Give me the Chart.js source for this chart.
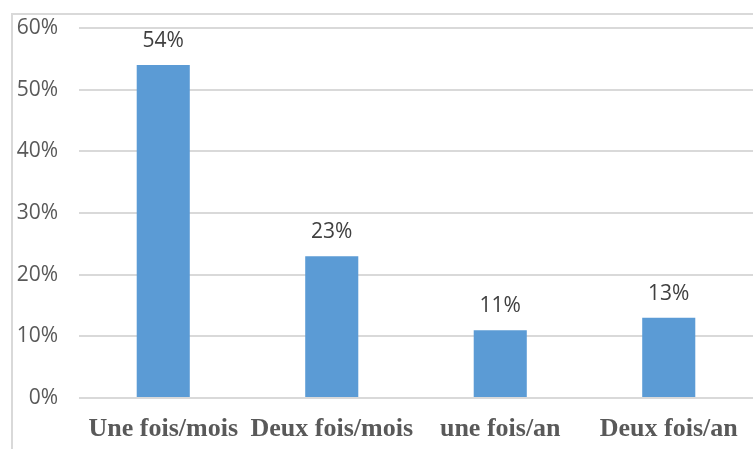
<!DOCTYPE html>
<html>
<head>
<meta charset="utf-8">
<script src="https://cdn.jsdelivr.net/npm/chart.js@4"></script>
<style>
  html, body { margin: 0; padding: 0; background: #fff; overflow: hidden; }
  #wrap { position: relative; width: 753px; height: 449px; }
  #cadre { position: absolute; left: 11px; top: 13px; width: 800px; height: 500px;
           border-left: 2px solid #d9d9d9; border-top: 2px solid #d9d9d9; }
  canvas { position: absolute; left: 0; top: 0; }
</style>
</head>
<body>
<div id="wrap">
  <div id="cadre"></div>
  <canvas id="graf" width="753" height="449"></canvas>
</div>
<script>
let categories = ['Une fois/mois', 'Deux fois/mois', 'une fois/an', 'Deux fois/an']
let valeurs = [54, 23, 11, 13]
let ticksY = [0, 10, 20, 30, 40, 50, 60]

// étiquettes au-dessus des barres
const etiquettes = {
    id: 'etiquettes',
    afterDatasetsDraw(chart) {
        let ctx = chart.ctx
        let meta = chart.getDatasetMeta(0)
        ctx.save()
        ctx.font = '21px "Open Sans"'
        ctx.fillStyle = '#404040'
        ctx.textAlign = 'center'
        ctx.textBaseline = 'middle'
        meta.data.forEach((bar, i) => {
            ctx.fillText(valeurs[i] + '%', bar.x, bar.y - 24)
        })
        ctx.restore()
    }
}

let ctx = document.getElementById('graf').getContext('2d')

new Chart(ctx, {
    type: 'bar',
    data: {
        labels: categories,
        datasets: [{
            data: valeurs,
            backgroundColor: '#5b9bd5',
            categoryPercentage: 1,
            barPercentage: 0.315
        }]
    },
    options: {
        responsive: false,
        animation: false,
        layout: { padding: { left: 15, top: 28, right: 0, bottom: 0 } },
        plugins: {
            legend: { display: false },
            tooltip: { enabled: false }
        },
        scales: {
            x: {
                grid: { display: false },
                border: { display: false },
                ticks: {
                    autoSkip: false,
                    maxRotation: 0,
                    padding: 8,
                    color: '#595959',
                    font: { family: '"Liberation Serif"', size: 26, weight: 'bold' }
                },
                afterFit: s => { s.height = 51; s.paddingLeft = 0; s.paddingRight = 0 }
            },
            y: {
                min: 0,
                max: 60,
                afterBuildTicks: s => { s.ticks = ticksY.map(v => ({ value: v })) },
                grid: { color: '#d9d9d9', lineWidth: 2, drawTicks: false },
                border: { display: false },
                ticks: {
                    padding: 21,
                    color: '#595959',
                    font: { family: '"Open Sans"', size: 21 },
                    callback: v => v + '%'
                },
                afterFit: s => { s.width = 64; s.paddingTop = 0; s.paddingBottom = 0 }
            }
        }
    },
    plugins: [etiquettes]
})
</script>
</body>
</html>
